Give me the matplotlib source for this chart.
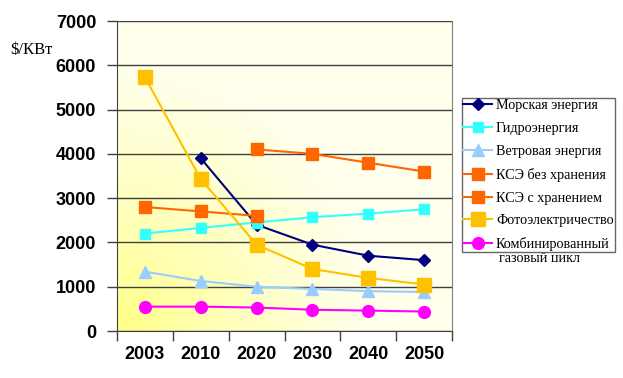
import numpy as np
import matplotlib
matplotlib.use("Agg")
import matplotlib.pyplot as plt
from matplotlib.patches import Rectangle

years = ["2003", "2010", "2020", "2030", "2040", "2050"]
marine = [np.nan, 3900, 2400, 1950, 1700, 1600]
hydro = [2200, 2330, 2450, 2570, 2650, 2750]
wind = [1340, 1130, 1000, 950, 900, 880]
kse_no = [np.nan, np.nan, 4100, 4000, 3800, 3600]
kse_st = [2800, 2700, 2600, np.nan, np.nan, np.nan]
photo = [5730, 3430, 1950, 1400, 1200, 1050]
gas = [550, 550, 530, 480, 460, 440]

labels = ["Морская энергия", "Гидроэнергия", "Ветровая энергия",
          "КСЭ без хранения", "КСЭ с хранением", "Фотоэлектричество",
          "Комбинированный"]
label_extra = "газовый цикл"
y_label = "$/КВт"

W, H = 623, 378
fig = plt.figure(figsize=(W / 100, H / 100), dpi=100)
ax = fig.add_axes([117 / W, 1 - 331 / H, (452 - 117) / W, (331 - 21) / H])

# background gradient
nx, ny = 300, 300
gx, gy = np.meshgrid(np.linspace(0, 1, nx), np.linspace(0, 1, ny))
d = np.clip(np.sqrt((gx / 0.75) ** 2 + (gy / 0.85) ** 2), 0, 1) ** 0.8
c0 = np.array([255, 255, 130]) / 255
c1 = np.array([255, 255, 236]) / 255
img = c0[None, None, :] * (1 - d[..., None]) + c1[None, None, :] * d[..., None]
ax.imshow(img, extent=[0, 1, 0, 1], transform=ax.transAxes, origin="lower",
          aspect="auto", zorder=0, interpolation="bilinear")

x = np.arange(len(years))
series = [
    (marine, "#000080", "D", 6.5),
    (hydro, "#33FFFF", "s", 7.5),
    (wind, "#99CCFF", "^", 8),
    (kse_no, "#FF6600", "s", 9),
    (kse_st, "#FF6600", "s", 9),
    (photo, "#FFC000", "s", 9.5),
    (gas, "#FF00FF", "o", 8.5),
]
handles = []
for (vals, col, mk, ms), lab in zip(series, labels):
    ln, = ax.plot(x, vals, color=col, lw=1.5, marker=mk, ms=ms,
                  markerfacecolor=col, markeredgecolor=col, zorder=3, label=lab)
    handles.append(ln)

ax.set_xlim(-0.5, len(years) - 0.5)
ax.set_ylim(0, 7000)
ax.set_yticks(np.arange(0, 7001, 1000))
ax.yaxis.grid(True, color="#404040", lw=1)
for gl in ax.get_ygridlines():
    gl.set_zorder(1)
ax.set_xticks(np.arange(-0.5, len(years)), labels=[""] * (len(years) + 1))
ax.set_xticks(x, labels=years, minor=True)
ax.tick_params(axis="x", which="major", length=7, width=1, color="#404040", direction="out")
ax.tick_params(axis="x", which="minor", length=0, pad=11)
ax.tick_params(axis="y", length=7, width=1, color="#404040", direction="out", pad=8)
for lab in ax.get_xticklabels(minor=True) + ax.get_yticklabels():
    lab.set_fontfamily("Liberation Sans")
    lab.set_fontweight("bold")
    lab.set_fontsize(13)
ax.spines["top"].set_visible(False)
ax.spines["right"].set_color("#808080")
ax.spines["left"].set_color("#404040")
ax.spines["bottom"].set_color("#404040")

fig.text(10 / W, 1 - 50 / H, y_label, family="Liberation Serif", fontsize=12,
         va="center", ha="left")

leg = fig.legend(handles=handles, labels=labels, loc="upper left",
                 bbox_to_anchor=(462 / W, 1 - 98 / H), frameon=True,
                 fancybox=False, edgecolor="#404040", borderpad=0.1,
                 labelspacing=0.69, handlelength=2.0, handletextpad=0.3,
                 borderaxespad=0, prop={"family": "Liberation Serif", "size": 10.2})
leg.get_frame().set_linewidth(1)

t = fig.text(499 / W, 1 - 252 / H, label_extra, family="Liberation Serif",
             fontsize=10.2, va="top", ha="left", clip_on=True)
clip = Rectangle((462 / W, 1 - 262 / H), 160 / W, 9 / H, transform=fig.transFigure,
                 visible=False)
fig.add_artist(clip)
t.set_clip_path(clip)

fig.savefig("out.png", dpi=100, facecolor="white")
